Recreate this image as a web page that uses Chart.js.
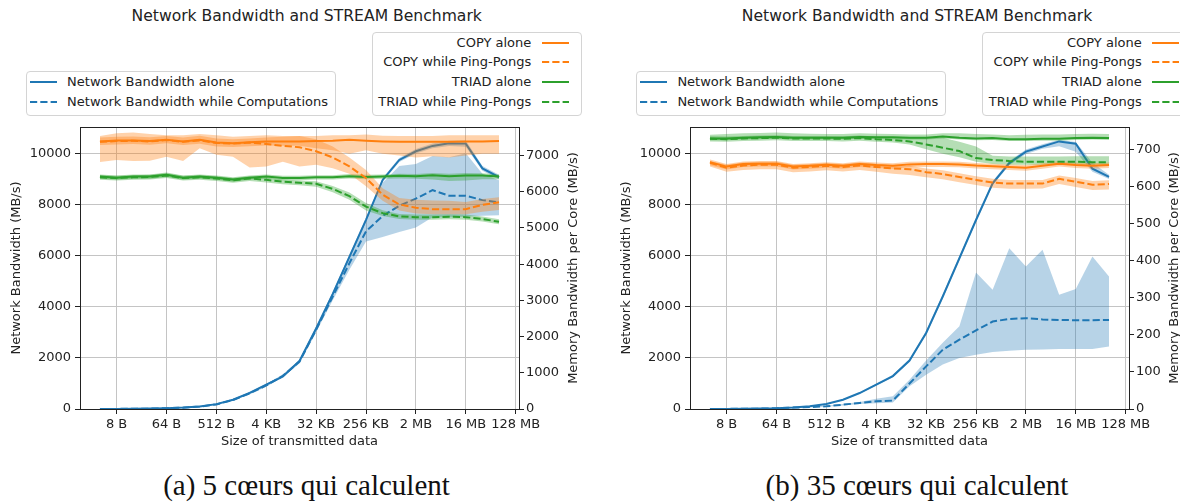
<!DOCTYPE html>
<html>
<head>
<meta charset="utf-8">
<script src="https://cdn.jsdelivr.net/npm/chart.js@4.4.1/dist/chart.umd.min.js"></script>
<style>
  html, body { margin: 0; padding: 0; background: #fff; overflow: hidden; }
  #page { position: relative; width: 1180px; height: 502px; overflow: hidden; background: #fff;
          font-family: 'DejaVu Sans', sans-serif; color: #222; }
  #page canvas { position: absolute; top: 120px; }
  .abs { position: absolute; white-space: nowrap; }
  .title { font-size: 15.6px; transform: translate(-50%, -50%); }
  .legbox { position: absolute; border: 1px solid #d4d4d4; border-radius: 4px; background: rgba(255,255,255,0.85); box-sizing: border-box; }
  .legtext { position: absolute; font-size: 13px; line-height: 20px; white-space: nowrap; }
  .ylab2 { position: absolute; font-size: 13px; white-space: nowrap; transform: translate(-50%, -50%) rotate(-90deg); }
  .caption { position: absolute; font-family: 'Liberation Serif', serif; font-size: 29px; color: #111;
             white-space: nowrap; transform: translate(-50%, -50%); }
</style>
</head>
<body>
<div id="page">
  <div class="abs title" style="left:306.7px; top:15.7px;">Network Bandwidth and STREAM Benchmark</div>
  <div class="abs title" style="left:917px; top:15.7px;">Network Bandwidth and STREAM Benchmark</div>
  <canvas id="chartA" width="590" height="340" style="left:0px;"></canvas>
  <canvas id="chartB" width="580" height="340" style="left:600px;"></canvas>
  <div class="ylab2" style="left:571.7px; top:268px;">Memory Bandwidth per Core (MB/s)</div>
  <div class="ylab2" style="left:1173px; top:268px;">Memory Bandwidth per Core (MB/s)</div>
  <div class="caption" style="left:306.5px; top:485px;">(a) 5 cœurs qui calculent</div>
  <div class="caption" style="left:917px; top:485px;">(b) 35 cœurs qui calculent</div>
</div>
<script>
// message sizes: log2 of the byte count, 4 B ... 64 MB
const sizeExp = [2, 3, 4, 5, 6, 7, 8, 9, 10, 11, 12, 13, 14, 15, 16, 17, 18, 19, 20, 21, 22, 23, 24, 25, 26];
const xTickExp = [3, 6, 9, 12, 15, 18, 21, 24, 27];
const xTickLabels = ['8 B', '64 B', '512 B', '4 KB', '32 KB', '256 KB', '2 MB', '16 MB', '128 MB'];
const netTicks = [0, 2000, 4000, 6000, 8000, 10000];
const aMemTicks = [0, 1000, 2000, 3000, 4000, 5000, 6000, 7000];
const bMemTicks = [0, 100, 200, 300, 400, 500, 600, 700];

const netLegend = ['Network Bandwidth alone', 'Network Bandwidth while Computations'];
const memLegend = ['COPY alone', 'COPY while Ping-Pongs', 'TRIAD alone', 'TRIAD while Ping-Pongs'];

// (a) 5 cores computing
const aNetAlone   = [2, 4, 8, 16, 30, 55, 100, 190, 360, 630, 950, 1270, 1880, 3150, 4500, 5950, 7400, 8960, 9740, 10080, 10290, 10390, 10380, 9410, 9070];
const aNetAloneLo = [0, 2, 6, 13, 26, 50, 90, 175, 335, 600, 910, 1220, 1820, 3070, 4420, 5870, 7320, 8880, 9660, 9990, 10200, 10290, 10260, 9320, 8980];
const aNetAloneHi = [4, 6, 10, 19, 34, 60, 110, 205, 385, 660, 990, 1320, 1940, 3230, 4580, 6030, 7480, 9040, 9820, 10170, 10380, 10490, 10500, 9500, 9160];
const aNetComp    = [2, 4, 8, 15, 29, 53, 95, 180, 350, 610, 920, 1300, 1850, 3100, 4400, 5700, 6950, 7550, 7950, 8230, 8560, 8340, 8340, 8170, 8080];
const aNetCompLo  = [0, 2, 6, 12, 25, 48, 85, 165, 320, 570, 870, 1240, 1780, 3000, 4250, 5450, 6550, 6730, 6920, 7100, 7500, 7500, 7520, 7560, 7580];
const aNetCompHi  = [4, 6, 10, 18, 33, 58, 105, 195, 380, 650, 970, 1360, 1920, 3200, 4550, 6000, 7350, 8850, 9500, 9580, 9900, 9850, 10000, 9200, 8950];

const aCopyAlone   = [7390, 7415, 7415, 7400, 7440, 7390, 7440, 7360, 7340, 7370, 7390, 7390, 7390, 7400, 7410, 7440, 7410, 7390, 7380, 7380, 7380, 7380, 7390, 7390, 7400];
const aCopyAloneLo = [7290, 7310, 7320, 7300, 7340, 7290, 7330, 7250, 7240, 7260, 7280, 7270, 7270, 7200, 7150, 7050, 7150, 7050, 7000, 6950, 6980, 6950, 7000, 7050, 7050];
const aCopyAloneHi = [7500, 7520, 7530, 7510, 7540, 7500, 7550, 7470, 7450, 7470, 7500, 7520, 7540, 7540, 7560, 7560, 7580, 7550, 7540, 7540, 7540, 7560, 7560, 7560, 7560];
const aCopyComp    = [7380, 7400, 7410, 7390, 7430, 7380, 7420, 7350, 7330, 7360, 7320, 7270, 7230, 7120, 6950, 6700, 6380, 5920, 5650, 5560, 5520, 5520, 5520, 5640, 5710];
const aCopyCompLo  = [6820, 6880, 6850, 6860, 6970, 6850, 7200, 7020, 6970, 6670, 6700, 6830, 6700, 6750, 6650, 6500, 6150, 5750, 5480, 5400, 5380, 5380, 5380, 5450, 5500];
const aCopyCompHi  = [7540, 7620, 7640, 7600, 7560, 7560, 7600, 7560, 7520, 7540, 7560, 7540, 7540, 7450, 7250, 6950, 6600, 6100, 5830, 5780, 5760, 5750, 5720, 5800, 5850];

const aTriadAlone   = [6420, 6390, 6420, 6420, 6470, 6390, 6420, 6390, 6340, 6390, 6420, 6380, 6380, 6400, 6400, 6430, 6410, 6420, 6440, 6430, 6460, 6430, 6450, 6450, 6420];
const aTriadAloneLo = [6360, 6330, 6360, 6360, 6410, 6330, 6360, 6330, 6280, 6330, 6360, 6320, 6320, 6340, 6340, 6370, 6350, 6360, 6370, 6360, 6340, 6300, 6310, 6350, 6350];
const aTriadAloneHi = [6480, 6450, 6480, 6480, 6530, 6450, 6480, 6450, 6400, 6450, 6480, 6440, 6440, 6460, 6460, 6490, 6470, 6480, 6500, 6490, 6520, 6500, 6520, 6510, 6480];
const aTriadComp    = [6400, 6380, 6400, 6410, 6450, 6380, 6400, 6370, 6320, 6370, 6330, 6280, 6250, 6220, 6080, 5880, 5590, 5410, 5320, 5300, 5300, 5310, 5300, 5250, 5170];
const aTriadCompLo  = [6330, 6310, 6330, 6340, 6380, 6310, 6330, 6300, 6250, 6300, 6260, 6210, 6180, 6140, 5990, 5780, 5480, 5330, 5250, 5230, 5230, 5240, 5230, 5180, 5100];
const aTriadCompHi  = [6460, 6440, 6460, 6470, 6510, 6440, 6460, 6430, 6380, 6430, 6390, 6340, 6310, 6290, 6160, 5980, 5690, 5490, 5390, 5370, 5370, 5380, 5370, 5320, 5240];

// (b) 35 cores computing
const bNetAlone   = [2, 4, 8, 16, 30, 60, 110, 200, 365, 626, 952, 1290, 1900, 2980, 4410, 5910, 7410, 8850, 9640, 10090, 10290, 10490, 10400, 9420, 9100];
const bNetAloneLo = [0, 2, 6, 13, 26, 54, 100, 185, 345, 600, 915, 1240, 1840, 2900, 4330, 5830, 7330, 8770, 9560, 10000, 10200, 10300, 10080, 9300, 9020];
const bNetAloneHi = [4, 6, 10, 19, 34, 66, 120, 215, 385, 650, 990, 1340, 1960, 3060, 4490, 5990, 7490, 8930, 9720, 10170, 10380, 10560, 10470, 9650, 9180];
const bNetComp    = [2, 4, 8, 15, 30, 55, 75, 105, 170, 235, 300, 330, 1000, 1670, 2320, 2720, 3080, 3430, 3530, 3560, 3510, 3490, 3480, 3480, 3490];
const bNetCompLo  = [0, 2, 6, 12, 25, 45, 60, 85, 140, 200, 230, 250, 890, 1340, 1740, 2000, 2130, 2230, 2280, 2320, 2330, 2350, 2350, 2350, 2450];
const bNetCompHi  = [4, 6, 10, 18, 35, 65, 90, 125, 200, 270, 400, 500, 1150, 1900, 2600, 3240, 5350, 4670, 6300, 5590, 6240, 4480, 4700, 5980, 5190];

const bCopyAlone   = [667, 655, 662, 663, 663, 655, 657, 660, 657, 662, 659, 657, 661, 662, 662, 661, 658, 656, 654, 652, 657, 663, 659, 657, 659];
const bCopyAloneLo = [659, 647, 654, 655, 655, 647, 649, 652, 649, 654, 651, 649, 653, 654, 654, 653, 650, 648, 646, 644, 649, 655, 651, 649, 651];
const bCopyAloneHi = [674, 662, 669, 670, 670, 662, 664, 667, 664, 669, 666, 664, 668, 669, 669, 668, 665, 663, 661, 659, 664, 670, 666, 664, 666];
const bCopyComp    = [665, 652, 658, 660, 660, 652, 654, 657, 654, 658, 654, 650, 648, 640, 635, 627, 619, 612, 609, 609, 609, 622, 614, 606, 608];
const bCopyCompLo  = [655, 641, 646, 648, 648, 640, 642, 645, 642, 646, 641, 636, 632, 626, 621, 613, 605, 598, 595, 595, 596, 608, 600, 592, 593];
const bCopyCompHi  = [670, 660, 666, 668, 668, 660, 662, 665, 662, 666, 662, 658, 657, 650, 645, 637, 629, 622, 619, 619, 619, 631, 624, 616, 618];

const bTriadAlone   = [731, 731, 733, 734, 735, 733, 733, 733, 733, 735, 734, 734, 733, 733, 736, 733, 731, 732, 729, 729, 730, 730, 732, 733, 732];
const bTriadAloneLo = [726, 726, 728, 729, 730, 728, 728, 728, 728, 730, 729, 729, 728, 728, 731, 728, 726, 727, 724, 724, 725, 725, 727, 728, 727];
const bTriadAloneHi = [741, 743, 745, 746, 747, 745, 744, 743, 743, 745, 744, 743, 742, 742, 745, 745, 743, 742, 740, 741, 742, 742, 743, 744, 743];
const bTriadComp    = [730, 729, 731, 732, 733, 731, 731, 731, 730, 732, 729, 727, 723, 715, 706, 697, 678, 673, 670, 668, 668, 668, 668, 667, 667];
const bTriadCompLo  = [723, 722, 724, 725, 726, 724, 724, 724, 723, 725, 722, 720, 715, 702, 690, 680, 668, 662, 660, 660, 660, 660, 660, 660, 660];
const bTriadCompHi  = [737, 736, 738, 739, 740, 738, 738, 738, 737, 739, 736, 734, 732, 733, 733, 722, 709, 684, 682, 682, 682, 682, 683, 683, 683];

const BLUE = '#1f77b4', ORANGE = '#ff7f0e', GREEN = '#2ca02c';
const BLUE_BAND = 'rgba(31,119,180,0.32)', ORANGE_BAND = 'rgba(255,127,14,0.35)', GREEN_BAND = 'rgba(44,160,44,0.35)';
const DASH = [7.2, 3.1];
const GRID = '#c4c4c4', SPINE = '#222', TEXT = '#222';

Chart.defaults.font.family = "'DejaVu Sans', sans-serif";
Chart.defaults.font.size = 13;
Chart.defaults.color = TEXT;

const pts = vals => vals.map((v, i) => ({ x: sizeExp[i], y: v }));

function meanLine(vals, color, dashed, axis) {
  return { data: pts(vals), borderColor: color, borderWidth: 2, borderDash: dashed ? DASH : [],
           pointRadius: 0, fill: false, tension: 0, yAxisID: axis };
}

// hi first, then lo filled back to it
function band(lo, hi, color, axis) {
  return [
    { data: pts(hi), borderWidth: 0, borderColor: 'rgba(0,0,0,0)', pointRadius: 0, fill: false, yAxisID: axis },
    { data: pts(lo), borderWidth: 0, borderColor: 'rgba(0,0,0,0)', pointRadius: 0, fill: '-1', backgroundColor: color, yAxisID: axis }
  ];
}

// black box around the plot area
const framePlugin = {
  id: 'frame',
  afterDraw(chart) {
    const { ctx, chartArea: a } = chart;
    ctx.save();
    ctx.strokeStyle = SPINE;
    ctx.lineWidth = 1;
    const l = Math.round(a.left) + 0.5, t = Math.round(a.top) + 0.5;
    ctx.strokeRect(l, t, Math.round(a.right) - Math.round(a.left), Math.round(a.bottom) - Math.round(a.top));
    ctx.restore();
  }
};

// fixed box sizes, and no label overhang padding so the plot area stays put
const fixSize = (w, h) => sc => {
  if (w !== null) sc.width = w;
  if (h !== null) sc.height = h;
  sc.paddingTop = 0; sc.paddingBottom = 0; sc.paddingLeft = 0; sc.paddingRight = 0;
};

function makeChart(id, s) {
  const datasets = [
    meanLine(s.copyAlone, ORANGE, false, 'mem'),
    meanLine(s.copyComp, ORANGE, true, 'mem'),
    meanLine(s.triadAlone, GREEN, false, 'mem'),
    meanLine(s.triadComp, GREEN, true, 'mem'),
    ...band(s.copyAloneLo, s.copyAloneHi, ORANGE_BAND, 'mem'),
    ...band(s.copyCompLo, s.copyCompHi, ORANGE_BAND, 'mem'),
    ...band(s.triadAloneLo, s.triadAloneHi, GREEN_BAND, 'mem'),
    ...band(s.triadCompLo, s.triadCompHi, GREEN_BAND, 'mem'),
    meanLine(s.netAlone, BLUE, false, 'net'),
    meanLine(s.netComp, BLUE, true, 'net'),
    ...band(s.netAloneLo, s.netAloneHi, BLUE_BAND, 'net'),
    ...band(s.netCompLo, s.netCompHi, BLUE_BAND, 'net')
  ];

  return new Chart(document.getElementById(id), {
    type: 'line',
    data: { datasets },
    plugins: [framePlugin],
    options: {
      responsive: false,
      animation: false,
      events: [],
      layout: { padding: { top: 7, left: 0, right: 0, bottom: 0 } },
      plugins: { legend: { display: false }, tooltip: { enabled: false } },
      scales: {
        x: {
          type: 'linear', min: 0.8, max: 27.2,
          afterBuildTicks: sc => { sc.ticks = xTickExp.map(v => ({ value: v })); },
          afterFit: fixSize(null, 51),
          ticks: { callback: v => xTickLabels[xTickExp.indexOf(v)], autoSkip: false, maxRotation: 0, padding: 3 },
          grid: { color: GRID, tickColor: SPINE, tickLength: 5 },
          border: { display: false },
          title: { display: true, text: 'Size of transmitted data', padding: { top: 0, bottom: 11 } }
        },
        net: {
          position: 'left', min: 0, max: s.netMax,
          afterBuildTicks: sc => { sc.ticks = netTicks.map(v => ({ value: v })); },
          afterFit: fixSize(s.leftWidth, null),
          ticks: { callback: v => String(v), padding: 4 },
          grid: { color: GRID, tickColor: SPINE, tickLength: 5 },
          border: { display: false },
          title: { display: true, text: 'Network Bandwidth (MB/s)', padding: { top: s.leftTitlePad, bottom: 0 } }
        },
        mem: {
          position: 'right', min: 0, max: s.memMax,
          afterBuildTicks: sc => { sc.ticks = s.memTicks.map(v => ({ value: v })); },
          afterFit: fixSize(s.rightWidth, null),
          ticks: { callback: v => String(v), padding: 2 },
          grid: { drawOnChartArea: false, tickColor: SPINE, tickLength: 5 },
          border: { display: false }
        }
      }
    }
  });
}

makeChart('chartA', {
  netAlone: aNetAlone, netAloneLo: aNetAloneLo, netAloneHi: aNetAloneHi,
  netComp: aNetComp, netCompLo: aNetCompLo, netCompHi: aNetCompHi,
  copyAlone: aCopyAlone, copyAloneLo: aCopyAloneLo, copyAloneHi: aCopyAloneHi,
  copyComp: aCopyComp, copyCompLo: aCopyCompLo, copyCompHi: aCopyCompHi,
  triadAlone: aTriadAlone, triadAloneLo: aTriadAloneLo, triadAloneHi: aTriadAloneHi,
  triadComp: aTriadComp, triadCompLo: aTriadCompLo, triadCompHi: aTriadCompHi,
  netMax: 11030, memMax: 7790, memTicks: aMemTicks,
  leftWidth: 80, rightWidth: 71, leftTitlePad: 9
});

makeChart('chartB', {
  netAlone: bNetAlone, netAloneLo: bNetAloneLo, netAloneHi: bNetAloneHi,
  netComp: bNetComp, netCompLo: bNetCompLo, netCompHi: bNetCompHi,
  copyAlone: bCopyAlone, copyAloneLo: bCopyAloneLo, copyAloneHi: bCopyAloneHi,
  copyComp: bCopyComp, copyCompLo: bCopyCompLo, copyCompHi: bCopyCompHi,
  triadAlone: bTriadAlone, triadAloneLo: bTriadAloneLo, triadAloneHi: bTriadAloneHi,
  triadComp: bTriadComp, triadCompLo: bTriadCompLo, triadCompHi: bTriadCompHi,
  netMax: 11055, memMax: 762, memTicks: bMemTicks,
  leftWidth: 90, rightWidth: 51, leftTitlePad: 19
});

// legends drawn as html
const page = document.getElementById('page');

function handle(x, y, color, dashed) {
  const ns = 'http://www.w3.org/2000/svg';
  const svg = document.createElementNS(ns, 'svg');
  svg.setAttribute('width', '27');
  svg.setAttribute('height', '6');
  svg.style.cssText = `position:absolute; left:${x}px; top:${y - 3}px;`;
  const ln = document.createElementNS(ns, 'line');
  ln.setAttribute('x1', '0'); ln.setAttribute('x2', '27');
  ln.setAttribute('y1', '3'); ln.setAttribute('y2', '3');
  ln.setAttribute('stroke', color);
  ln.setAttribute('stroke-width', '2');
  if (dashed) ln.setAttribute('stroke-dasharray', DASH.join(' '));
  svg.appendChild(ln);
  page.appendChild(svg);
}

function box(x, y, w, h) {
  const d = document.createElement('div');
  d.className = 'legbox';
  d.style.cssText = `left:${x}px; top:${y}px; width:${w}px; height:${h}px;`;
  page.appendChild(d);
}

function text(str, y, left, right) {
  const d = document.createElement('div');
  d.className = 'legtext';
  d.textContent = str;
  d.style.top = (y - 10) + 'px';
  if (left !== null) d.style.left = left + 'px';
  else d.style.right = (1180 - right) + 'px';
  page.appendChild(d);
}

function netLegendAt(x0) {
  box(x0, 71, 310, 45);
  const rows = [82.3, 102];
  netLegend.forEach((s, i) => {
    handle(x0 + 4.5, rows[i], BLUE, i === 1);
    text(s, rows[i], x0 + 41.5, null);
  });
}

function memLegendAt(x0, textRight) {
  box(x0, 32.3, 210, 84);
  const rows = [42.7, 62.3, 82.3, 102];
  const colors = [ORANGE, ORANGE, GREEN, GREEN];
  memLegend.forEach((s, i) => {
    handle(textRight + 10.5, rows[i], colors[i], i % 2 === 1);
    text(s, rows[i], null, textRight);
  });
}

netLegendAt(25.6);
memLegendAt(371.8, 531.3);
netLegendAt(635.9);
memLegendAt(982.3, 1141.7);
</script>
</body>
</html>
